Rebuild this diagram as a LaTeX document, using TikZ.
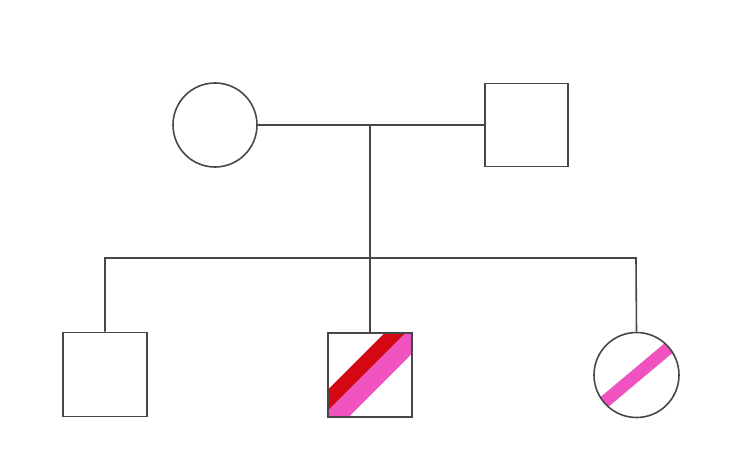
\documentclass[tikz,border=0pt]{standalone}
\usetikzlibrary{calc}
\begin{document}
\begin{tikzpicture}[x=1pt,y=-1pt,
  ln/.style={draw=black!72, line width=1.6pt},
  sq/.style={ln, minimum size=84pt, inner sep=0pt, rectangle},
  ci/.style={ln, minimum size=85pt, inner sep=0pt, circle}]
\definecolor{bandred}{RGB}{212,8,20}
\definecolor{bandpink}{RGB}{240,82,192}
\useasboundingbox (0,0) rectangle (750,468);
% stripes in the affected son
\begin{scope}[shift={(328,416.7)}, yscale=-1]
  \clip (0,0) rectangle (84,84);
  \fill[bandred] (-10,17) -- (100,127) -- (100,106) -- (-10,-4) -- cycle;
  \fill[bandpink] (-10,-4) -- (100,106) -- (100,79) -- (-10,-31) -- cycle;
\end{scope}
% stripe in the daughter
\begin{scope}[shift={(636.5,375)}, yscale=-1]
  \clip (0,0) circle (42.5);
  \draw[bandpink, line width=12.5pt] (-50,-42) -- (50,42);
\end{scope}
% parents
\node[ci, minimum size=84pt] (mother) at (215,125) {};
\node[sq, minimum size=83pt] (father) at (526.5,125) {};
% children
\node[sq] (son1) at (105,374.5) {};
\node[sq] (son2) at (370,374.7) {};
\node[ci] (dau) at (636.5,375) {};
% couple and descent
\coordinate (mid) at (370,125);
\coordinate (sibL) at (105,258);
\coordinate (sibR) at (636,258);
\draw[ln] (mother.east) -- (father.west);
\draw[ln] (mid) -- (son2.north);
\draw[ln] (son1.north) -- (sibL) -- (sibR) -- (dau.north);
\end{tikzpicture}
\end{document}
